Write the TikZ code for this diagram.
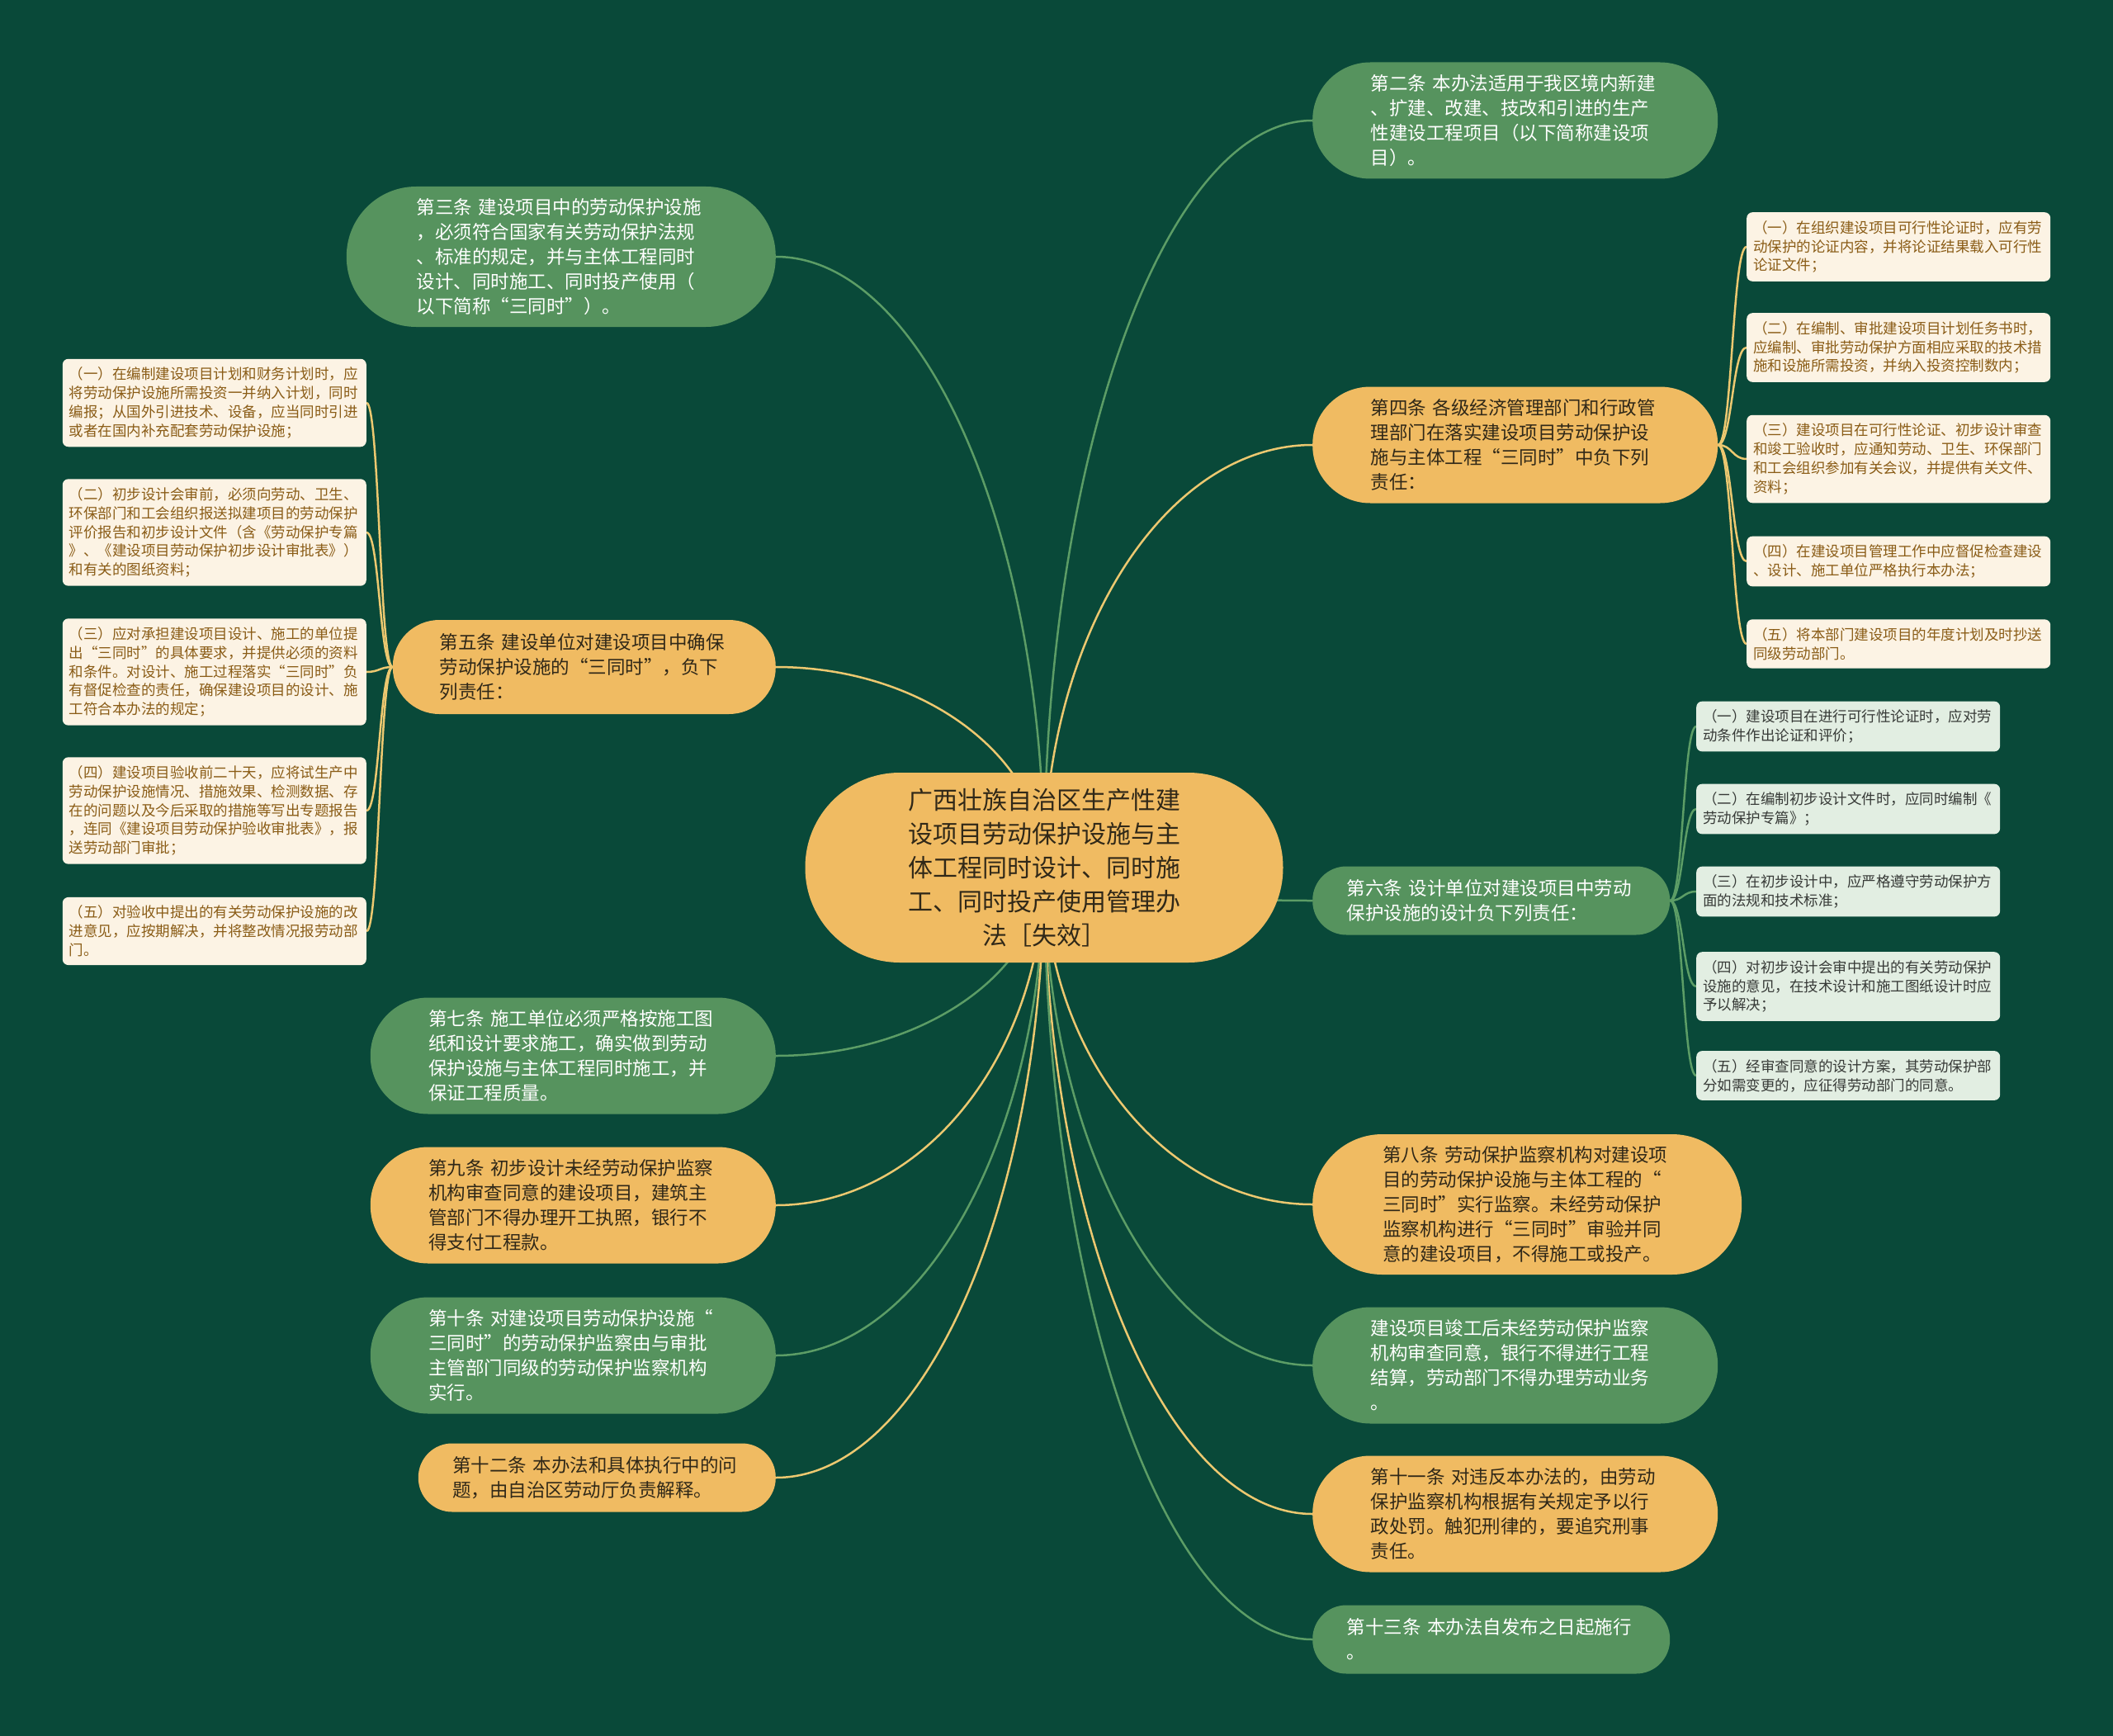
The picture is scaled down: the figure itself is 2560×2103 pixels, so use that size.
\documentclass[tikz,border=0pt]{standalone}
\usepackage{fontspec}
\setmainfont{Noto Sans CJK SC}
\usetikzlibrary{backgrounds, calc}
\definecolor{bgGreen}{RGB}{9,73,57}
\definecolor{nodeGreen}{RGB}{86,147,94}
\definecolor{nodeOrange}{RGB}{240,187,98}
\definecolor{leafCream}{RGB}{252,243,228}
\definecolor{leafMint}{RGB}{226,238,226}
\definecolor{textBrown}{RGB}{138,92,22}
\definecolor{textDark}{RGB}{48,40,24}
\definecolor{textGrey}{RGB}{55,58,55}
\definecolor{lineGreen}{RGB}{92,157,102}
\definecolor{lineGold}{RGB}{236,200,112}
\tikzset{
  ruleNode/.style={
    inner ysep=0pt,
    text width=350pt,
    align=left,
    font=\fontsize{22.5}{30}\selectfont
  },
  twoLines/.style={minimum height=83pt, inner xsep=41.5pt, rounded corners=41pt},
  threeLines/.style={minimum height=114pt, inner xsep=57pt, rounded corners=56.5pt},
  fourLines/.style={minimum height=141pt, inner xsep=70.5pt, rounded corners=70pt},
  fiveLines/.style={minimum height=170pt, inner xsep=85pt, rounded corners=84.5pt},
  greenNode/.style={ruleNode, fill=nodeGreen, text=white},
  orangeNode/.style={ruleNode, fill=nodeOrange, text=textDark},
  rootNode/.style={fill=nodeOrange, text=textDark, inner sep=0pt, minimum width=579pt, minimum height=230pt,
    rounded corners=114.5pt, text width=337pt, align=center, font=\fontsize{30}{41}\selectfont},
  leafNode/.style={
    rounded corners=7pt,
    inner xsep=8pt,
    inner ysep=10pt,
    text width=352pt,
    align=left,
    font=\fontsize{17.5}{22.9}\selectfont
  },
  creamLeaf/.style={leafNode, fill=leafCream, text=textBrown},
  mintLeaf/.style={leafNode, fill=leafMint, text=textGrey},
  branchLink/.style={line width=2.5pt,
    to path={.. controls ($(\tikztostart)!0.55!(\tikztostart |- \tikztotarget)$)
      and ($(\tikztotarget)!0.55!(\tikztostart |- \tikztotarget)$) .. (\tikztotarget)}},
  twigLink/.style={line width=2.5pt,
    to path={.. controls ($(\tikztostart)!0.5!(\tikztotarget |- \tikztostart)$)
      and ($(\tikztotarget)!0.5!(\tikztostart |- \tikztotarget)$) .. (\tikztotarget)}},
  greenLink/.style={branchLink, draw=lineGreen},
  goldLink/.style={branchLink, draw=lineGold},
  greenTwig/.style={twigLink, draw=lineGreen},
  goldTwig/.style={twigLink, draw=lineGold}
}
\begin{document}
\begin{tikzpicture}[x=1pt, y=-1pt]
  \useasboundingbox (0,0) rectangle (2560,2103);

  \node[rootNode] (root) at (1265,1051) {广西壮族自治区生产性建\\设项目劳动保护设施与主\\体工程同时设计、同时施\\工、同时投产使用管理办\\法［失效］};

  % right side
  \node[greenNode, fourLines, anchor=west] (artTwo) at (1590,146) {第二条~本办法适用于我区境内新建\\、扩建、改建、技改和引进的生产\\性建设工程项目（以下简称建设项\\目）。};
  \node[orangeNode, fourLines, anchor=west] (artFour) at (1590,539) {第四条~各级经济管理部门和行政管\\理部门在落实建设项目劳动保护设\\施与主体工程“三同时”中负下列\\责任：};
  \node[greenNode, twoLines, anchor=west] (artSix) at (1590,1091) {第六条~设计单位对建设项目中劳动\\保护设施的设计负下列责任：};
  \node[orangeNode, fiveLines, anchor=west] (artEight) at (1590,1459) {第八条~劳动保护监察机构对建设项\\目的劳动保护设施与主体工程的“\\三同时”实行监察。未经劳动保护\\监察机构进行“三同时”审验并同\\意的建设项目，不得施工或投产。};
  \node[greenNode, fourLines, anchor=west] (artFinal) at (1590,1654) {建设项目竣工后未经劳动保护监察\\机构审查同意，银行不得进行工程\\结算，劳动部门不得办理劳动业务\\。};
  \node[orangeNode, fourLines, anchor=west] (artEleven) at (1590,1834) {第十一条~对违反本办法的，由劳动\\保护监察机构根据有关规定予以行\\政处罚。触犯刑律的，要追究刑事\\责任。};
  \node[greenNode, twoLines, anchor=west] (artThirteen) at (1590,1986) {第十三条~本办法自发布之日起施行\\。};

  % left side
  \node[greenNode, fiveLines, anchor=east] (artThree) at (940,311) {第三条~建设项目中的劳动保护设施\\，必须符合国家有关劳动保护法规\\、标准的规定，并与主体工程同时\\设计、同时施工、同时投产使用（\\以下简称“三同时”）。};
  \node[orangeNode, threeLines, anchor=east] (artFive) at (940,808) {第五条~建设单位对建设项目中确保\\劳动保护设施的“三同时”，负下\\列责任：};
  \node[greenNode, fourLines, anchor=east] (artSeven) at (940,1279) {第七条~施工单位必须严格按施工图\\纸和设计要求施工，确实做到劳动\\保护设施与主体工程同时施工，并\\保证工程质量。};
  \node[orangeNode, fourLines, anchor=east] (artNine) at (940,1460) {第九条~初步设计未经劳动保护监察\\机构审查同意的建设项目，建筑主\\管部门不得办理开工执照，银行不\\得支付工程款。};
  \node[greenNode, fourLines, anchor=east] (artTen) at (940,1642) {第十条~对建设项目劳动保护设施“\\三同时”的劳动保护监察由与审批\\主管部门同级的劳动保护监察机构\\实行。};
  \node[orangeNode, twoLines, anchor=east] (artTwelve) at (940,1790) {第十二条~本办法和具体执行中的问\\题，由自治区劳动厅负责解释。};

  % duties of art. 4
  \node[creamLeaf, anchor=west] (fourA) at (2116,299) {（一）在组织建设项目可行性论证时，应有劳\\动保护的论证内容，并将论证结果载入可行性\\论证文件；};
  \node[creamLeaf, anchor=west] (fourB) at (2116,421) {（二）在编制、审批建设项目计划任务书时，\\应编制、审批劳动保护方面相应采取的技术措\\施和设施所需投资，并纳入投资控制数内；};
  \node[creamLeaf, anchor=west] (fourC) at (2116,556) {（三）建设项目在可行性论证、初步设计审查\\和竣工验收时，应通知劳动、卫生、环保部门\\和工会组织参加有关会议，并提供有关文件、\\资料；};
  \node[creamLeaf, anchor=west] (fourD) at (2116,680) {（四）在建设项目管理工作中应督促检查建设\\、设计、施工单位严格执行本办法；};
  \node[creamLeaf, anchor=west] (fourE) at (2116,780) {（五）将本部门建设项目的年度计划及时抄送\\同级劳动部门。};

  % duties of art. 5
  \node[creamLeaf, anchor=east] (fiveA) at (444,488) {（一）在编制建设项目计划和财务计划时，应\\将劳动保护设施所需投资一并纳入计划，同时\\编报；从国外引进技术、设备，应当同时引进\\或者在国内补充配套劳动保护设施；};
  \node[creamLeaf, anchor=east] (fiveB) at (444,645) {（二）初步设计会审前，必须向劳动、卫生、\\环保部门和工会组织报送拟建项目的劳动保护\\评价报告和初步设计文件（含《劳动保护专篇\\》、《建设项目劳动保护初步设计审批表》）\\和有关的图纸资料；};
  \node[creamLeaf, anchor=east] (fiveC) at (444,814) {（三）应对承担建设项目设计、施工的单位提\\出“三同时”的具体要求，并提供必须的资料\\和条件。对设计、施工过程落实“三同时”负\\有督促检查的责任，确保建设项目的设计、施\\工符合本办法的规定；};
  \node[creamLeaf, anchor=east] (fiveD) at (444,982) {（四）建设项目验收前二十天，应将试生产中\\劳动保护设施情况、措施效果、检测数据、存\\在的问题以及今后采取的措施等写出专题报告\\，连同《建设项目劳动保护验收审批表》，报\\送劳动部门审批；};
  \node[creamLeaf, anchor=east] (fiveE) at (444,1128) {（五）对验收中提出的有关劳动保护设施的改\\进意见，应按期解决，并将整改情况报劳动部\\门。};

  % duties of art. 6
  \node[mintLeaf, anchor=west] (sixA) at (2055,880) {（一）建设项目在进行可行性论证时，应对劳\\动条件作出论证和评价；};
  \node[mintLeaf, anchor=west] (sixB) at (2055,980) {（二）在编制初步设计文件时，应同时编制《\\劳动保护专篇》；};
  \node[mintLeaf, anchor=west] (sixC) at (2055,1080) {（三）在初步设计中，应严格遵守劳动保护方\\面的法规和技术标准；};
  \node[mintLeaf, anchor=west] (sixD) at (2055,1195) {（四）对初步设计会审中提出的有关劳动保护\\设施的意见，在技术设计和施工图纸设计时应\\予以解决；};
  \node[mintLeaf, anchor=west] (sixE) at (2055,1303) {（五）经审查同意的设计方案，其劳动保护部\\分如需变更的，应征得劳动部门的同意。};

  \begin{scope}[on background layer]
    \fill[bgGreen] (0,0) rectangle (2560,2103);
    \draw[greenLink] (root.center) to (artTwo.west);
    \draw[goldLink] (root.center) to (artFour.west);
    \draw[greenLink] (root.center) to (artSix.west);
    \draw[goldLink] (root.center) to (artEight.west);
    \draw[greenLink] (root.center) to (artFinal.west);
    \draw[goldLink] (root.center) to (artEleven.west);
    \draw[greenLink] (root.center) to (artThirteen.west);
    \draw[greenLink] (root.center) to (artThree.east);
    \draw[goldLink] (root.center) to (artFive.east);
    \draw[greenLink] (root.center) to (artSeven.east);
    \draw[goldLink] (root.center) to (artNine.east);
    \draw[greenLink] (root.center) to (artTen.east);
    \draw[goldLink] (root.center) to (artTwelve.east);

    \draw[goldTwig] (artFour.east) to (fourA.west);
    \draw[goldTwig] (artFour.east) to (fourB.west);
    \draw[goldTwig] (artFour.east) to (fourC.west);
    \draw[goldTwig] (artFour.east) to (fourD.west);
    \draw[goldTwig] (artFour.east) to (fourE.west);
    \draw[goldTwig] (artFive.west) to (fiveA.east);
    \draw[goldTwig] (artFive.west) to (fiveB.east);
    \draw[goldTwig] (artFive.west) to (fiveC.east);
    \draw[goldTwig] (artFive.west) to (fiveD.east);
    \draw[goldTwig] (artFive.west) to (fiveE.east);
    \draw[greenTwig] (artSix.east) to (sixA.west);
    \draw[greenTwig] (artSix.east) to (sixB.west);
    \draw[greenTwig] (artSix.east) to (sixC.west);
    \draw[greenTwig] (artSix.east) to (sixD.west);
    \draw[greenTwig] (artSix.east) to (sixE.west);
  \end{scope}
\end{tikzpicture}
\end{document}
